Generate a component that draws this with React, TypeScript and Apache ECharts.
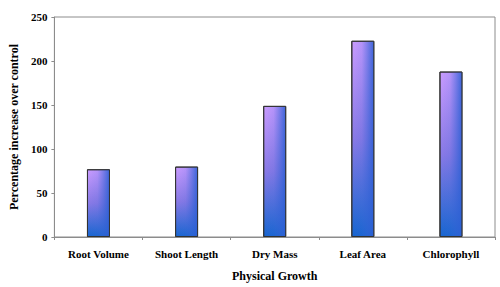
import React, { useEffect, useRef } from "react";
import * as echarts from "echarts";

const categories = ["Root Volume", "Shoot Length", "Dry Mass", "Leaf Area", "Chlorophyll"];
const values = [77, 80, 149, 223, 188];
const yTicks = { min: 0, max: 250, interval: 50 };

export default function App() {
  const ref = useRef<HTMLDivElement>(null);
  useEffect(() => {
    if (!ref.current) return;
    const chart = echarts.init(ref.current, undefined, { renderer: "svg" });
    const font = "Liberation Serif";
    chart.setOption({
      animation: false,
      backgroundColor: "#ffffff",
      grid: {
        left: 53,
        top: 17,
        right: 5,
        bottom: 50,
        show: true,
        borderColor: "#8c8c8c",
        borderWidth: 1,
      },
      xAxis: {
        type: "category",
        data: categories,
        name: "Physical Growth",
        nameLocation: "middle",
        nameGap: 33,
        nameTextStyle: { fontFamily: font, fontWeight: "bold", fontSize: 12, color: "#000" },
        axisLine: { lineStyle: { color: "#8c8c8c" } },
        axisTick: { show: true, length: 3, lineStyle: { color: "#8c8c8c" } },
        axisLabel: { fontFamily: font, fontWeight: "bold", fontSize: 11, color: "#000", margin: 11 },
      },
      yAxis: {
        type: "value",
        min: yTicks.min,
        max: yTicks.max,
        interval: yTicks.interval,
        name: "Percentage increase over control",
        nameLocation: "middle",
        nameGap: 32,
        nameTextStyle: { fontFamily: font, fontWeight: "bold", fontSize: 12, color: "#000" },
        axisLine: { show: true, lineStyle: { color: "#8c8c8c" } },
        axisTick: { show: true, length: 3, lineStyle: { color: "#8c8c8c" } },
        splitLine: { show: false },
        axisLabel: { fontFamily: font, fontWeight: "bold", fontSize: 11, color: "#000", margin: 7 },
      },
      series: [
        {
          type: "bar",
          data: values,
          barWidth: 23,
          itemStyle: {
            color: new echarts.graphic.LinearGradient(0, 0, 0, 1, [
              { offset: 0, color: "#cb9cff" },
              { offset: 0.5, color: "#8a7ae6" },
              { offset: 1, color: "#1766d0" },
            ]),
            borderColor: "#333",
            borderWidth: 1,
          },
        },
        {
          type: "bar",
          data: values,
          barWidth: 23,
          barGap: "-100%",
          itemStyle: {
            color: new echarts.graphic.LinearGradient(0, 0, 1, 0, [
              { offset: 0, color: "rgba(60,100,215,0)" },
              { offset: 0.45, color: "rgba(60,100,215,0.15)" },
              { offset: 1, color: "rgba(45,95,212,0.9)" },
            ]),
            borderColor: "#333",
            borderWidth: 1,
          },
        },
      ],
    });
    return () => chart.dispose();
  }, []);
  return (
    <div
      ref={ref}
      style={{ position: "fixed", left: 0, top: 0, width: 500, height: 287 }}
    />
  );
}
